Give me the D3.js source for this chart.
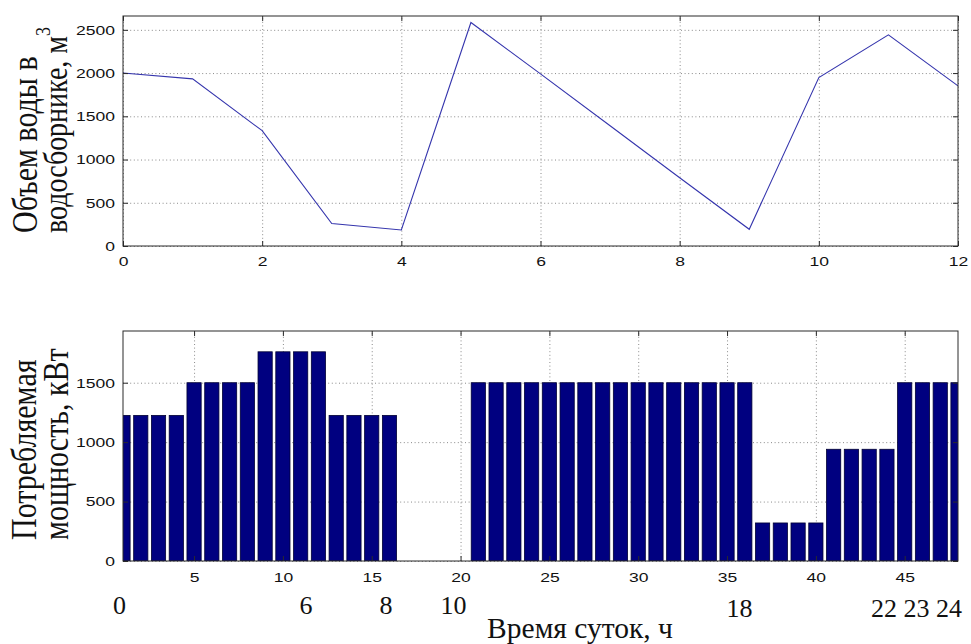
<!DOCTYPE html>
<html>
<head>
<meta charset="utf-8">
<script src="https://cdn.jsdelivr.net/npm/d3@7"></script>
<style>
  html, body { margin: 0; padding: 0; background: #fff; }
  svg { display: block; }
</style>
</head>
<body>
<svg id="chart" width="971" height="644"></svg>
<script>
// Reservoir volume by hour (upper panel)
const volumeHours = [0, 1, 2, 3, 4, 5, 6, 7, 8, 9, 10, 11, 12];
const volumeValues = [2000, 1933, 1334, 260, 185, 2585, 1990, 1390, 790, 193, 1948, 2442, 1852];
const volumeXTicks = [0, 2, 4, 6, 8, 10, 12];
const volumeYTicks = [0, 500, 1000, 1500, 2000, 2500];

// Consumed power per half-hour interval (lower panel)
const powerSlots = d3.range(1, 49);
const powerValues = [
  1225, 1225, 1225, 1225, 1500, 1500, 1500, 1500,
  1760, 1760, 1760, 1760, 1225, 1225, 1225, 1225,
  0, 0, 0, 0, 1500, 1500, 1500, 1500,
  1500, 1500, 1500, 1500, 1500, 1500, 1500, 1500,
  1500, 1500, 1500, 1500, 320, 320, 320, 320,
  940, 940, 940, 940, 1500, 1500, 1500, 1500
];
const powerXTicks = [5, 10, 15, 20, 25, 30, 35, 40, 45];
const powerYTicks = [0, 500, 1000, 1500];

// Clock-hour captions placed along the half-hour axis
const hourLabels = ["0", "6", "8", "10", "18", "22", "23", "24"];
const hourSlots = [0.8, 11.3, 15.8, 19.6, 35.7, 43.83, 45.66, 47.49];

const svg = d3.select("#chart");
const tickFont = "'Liberation Sans', Arial, Helvetica, sans-serif";
const serifFont = "'Liberation Serif', 'Times New Roman', serif";
const gridColor = "#8a8a8a";
const frameColor = "#2a2a2a";
const intFmt = d3.format("d");

function panel(box, xs, ys, xTicks, yTicks, xPad) {
  const g = svg.append("g");
  const w = box.x1 - box.x0, h = box.y1 - box.y0;

  // dotted grid
  const grid = g.append("g").attr("class", "grid");
  grid.append("g").attr("transform", `translate(0,${box.y1})`)
    .call(d3.axisBottom(xs).tickValues(xTicks).tickSize(-h).tickFormat(""));
  grid.append("g").attr("transform", `translate(${box.x0},0)`)
    .call(d3.axisLeft(ys).tickValues(yTicks).tickSize(-w).tickFormat(""));
  grid.selectAll(".domain").remove();
  grid.selectAll("line").attr("stroke", gridColor).attr("stroke-width", 1)
    .attr("stroke-dasharray", "1,2.6");

  const marks = g.append("g");
  const frame = g.append("g");

  // inward ticks on all four sides
  const bottom = frame.append("g").attr("transform", `translate(0,${box.y1})`)
    .call(d3.axisBottom(xs).tickValues(xTicks).tickFormat(intFmt)
      .tickSizeInner(-5).tickSizeOuter(0).tickPadding(xPad));
  frame.append("g").attr("transform", `translate(0,${box.y0})`)
    .call(d3.axisTop(xs).tickValues(xTicks).tickSizeInner(-5).tickSizeOuter(0).tickFormat(""));
  const left = frame.append("g").attr("transform", `translate(${box.x0},0)`)
    .call(d3.axisLeft(ys).tickValues(yTicks).tickFormat(intFmt)
      .tickSizeInner(-5).tickSizeOuter(0).tickPadding(8));
  frame.append("g").attr("transform", `translate(${box.x1},0)`)
    .call(d3.axisRight(ys).tickValues(yTicks).tickSizeInner(-5).tickSizeOuter(0).tickFormat(""));
  frame.selectAll(".domain").remove();
  frame.selectAll("line").attr("stroke", frameColor);
  frame.selectAll("text").attr("fill", "#111").attr("font-family", tickFont).attr("font-size", 13.5);
  bottom.selectAll("text").attr("transform", "scale(1.3,1)");
  left.selectAll("text").attr("transform", "scale(1.3,1)").attr("x", -8 / 1.3);

  frame.append("rect")
    .attr("x", box.x0).attr("y", box.y0).attr("width", w).attr("height", h)
    .attr("fill", "none").attr("stroke", frameColor).attr("stroke-width", 1);
  return marks;
}

// ---- upper panel: volume line ----
const topBox = { x0: 123, x1: 958, y0: 16, y1: 246 };
const xVol = d3.scaleLinear().domain([0, 12]).range([topBox.x0, topBox.x1]);
const yVol = d3.scaleLinear().domain([0, 2660]).range([topBox.y1, topBox.y0]);
const volMarks = panel(topBox, xVol, yVol, volumeXTicks, volumeYTicks, 10);
volMarks.append("path")
  .datum(volumeHours.map((t, i) => [t, volumeValues[i]]))
  .attr("fill", "none")
  .attr("stroke", "#3535ad")
  .attr("stroke-width", 1.1)
  .attr("d", d3.line().x(d => xVol(d[0])).y(d => yVol(d[1])));

// ---- lower panel: power bars ----
const botBox = { x0: 123, x1: 958, y0: 331, y1: 561 };
const xPow = d3.scaleLinear().domain([1, 48]).range([botBox.x0, botBox.x1]);
const yPow = d3.scaleLinear().domain([0, 1935]).range([botBox.y1, botBox.y0]);
svg.append("defs").append("clipPath").attr("id", "barClip")
  .append("rect").attr("x", botBox.x0).attr("y", botBox.y0)
  .attr("width", botBox.x1 - botBox.x0).attr("height", botBox.y1 - botBox.y0);
const powMarks = panel(botBox, xPow, yPow, powerXTicks, powerYTicks, 11);
const barW = xPow(1.8) - xPow(1);
powMarks.append("g").attr("clip-path", "url(#barClip)")
  .selectAll("rect")
  .data(powerSlots.map((s, i) => ({ s, v: powerValues[i] })).filter(d => d.v > 0))
  .join("rect")
  .attr("x", d => xPow(d.s) - barW / 2)
  .attr("y", d => yPow(d.v))
  .attr("width", barW)
  .attr("height", d => yPow(0) - yPow(d.v))
  .attr("fill", "#000080")
  .attr("stroke", "#000033")
  .attr("stroke-width", 0.8);

// clock-hour captions
svg.append("g").selectAll("text")
  .data(hourLabels.map((t, i) => ({ t, s: hourSlots[i] })))
  .join("text")
  .attr("x", d => xPow(d.s))
  .attr("y", d => d.s > 30 ? 616.5 : 613.5)
  .attr("text-anchor", "middle")
  .attr("font-family", serifFont)
  .attr("font-size", 26)
  .attr("fill", "#111")
  .text(d => d.t);

svg.append("text")
  .attr("x", 580).attr("y", 638)
  .attr("text-anchor", "middle")
  .attr("font-family", serifFont)
  .attr("font-size", 29.5)
  .attr("fill", "#111")
  .text("Время суток, ч");

// rotated axis titles (glyphs slightly widened across the line)
function vLabel(x, y, size, str) {
  return svg.append("text")
    .attr("transform", `translate(${x},${y}) scale(1.2,1) rotate(-90)`)
    .attr("text-anchor", "start")
    .attr("font-family", serifFont)
    .attr("font-size", size)
    .attr("fill", "#111")
    .text(str);
}
vLabel(37, 233, 30, "Объем воды в");
const l2 = vLabel(67, 233, 28, "водосборнике, м");
l2.append("tspan").attr("dy", -14).attr("font-size", 18).text("3");
vLabel(36, 540, 30, "Потребляемая");
vLabel(68, 540, 30, "мощность, кВт");
</script>
</body>
</html>
